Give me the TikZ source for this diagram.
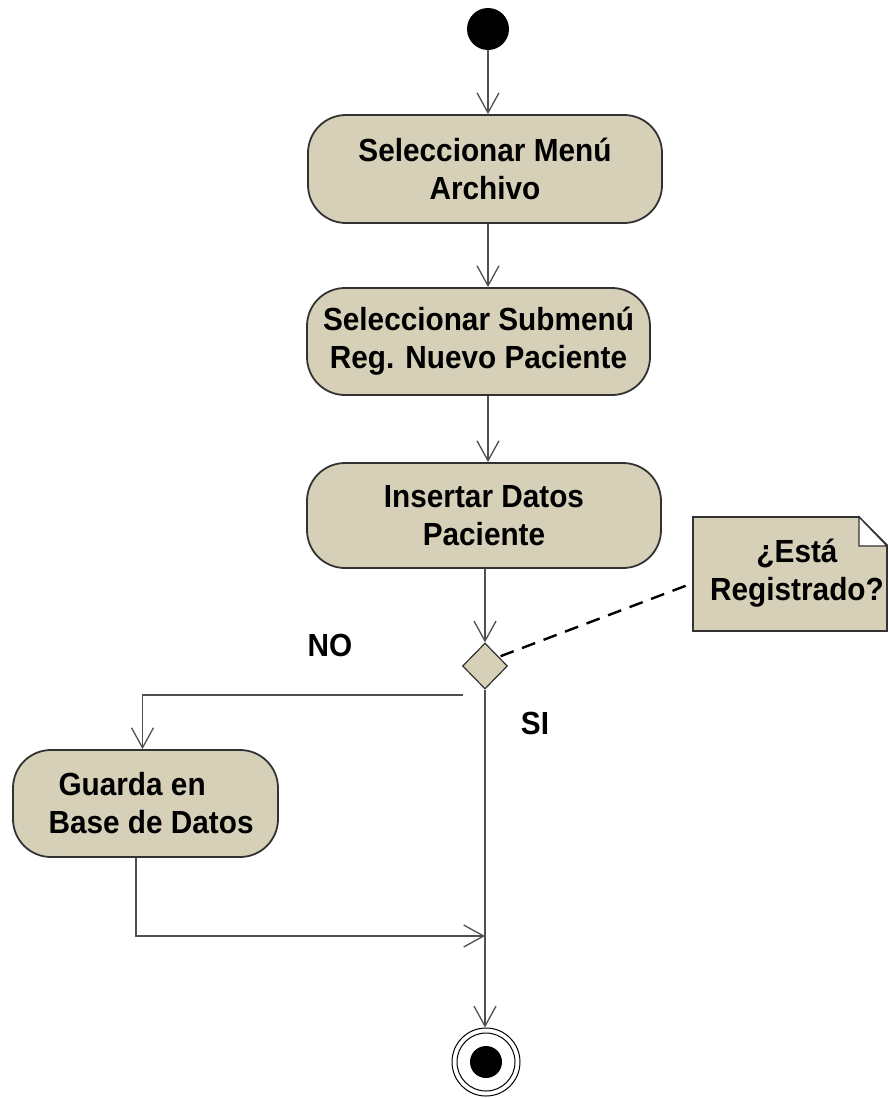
\documentclass[tikz,border=0pt]{standalone}
\usepackage{fontspec}
\setmainfont[FakeStretch=0.93]{Liberation Sans}
\usetikzlibrary{arrows.meta,shapes.geometric}
\definecolor{actfill}{RGB}{214,208,184}
\definecolor{actline}{RGB}{50,50,50}
\definecolor{flowline}{RGB}{80,80,80}
\begin{document}
\begin{tikzpicture}[x=1pt,y=-1pt,
  txt/.style={font=\fontsize{32}{38}\selectfont\bfseries, text=black, align=center},
  action/.style={txt, draw=actline, line width=1.8pt, fill=actfill,
    rounded corners=38pt, inner sep=0pt},
  flow/.style={draw=flowline, line width=1.3pt,
    -{Straight Barb[length=20pt,width=22pt,line width=1.3pt]}},
  notelink/.style={draw=black, line width=2.4pt, dash pattern=on 14pt off 9pt},
]
\useasboundingbox (0,0) rectangle (888,1098);

% start and activities
\node[circle, fill=black, minimum size=42pt, inner sep=0pt] (start) at (488,29) {};
\node[action, minimum width=354pt, minimum height=108pt] (a1) at (485,169)
  {Seleccionar Menú\\Archivo};
\node[action, minimum width=343pt, minimum height=107pt] (a2) at (478.5,341.5)
  {Seleccionar Submenú\\Reg. Nuevo Paciente};
\node[action, minimum width=354pt, minimum height=105pt] (a3) at (484,515.5)
  {Insertar Datos\\Paciente};

% decision
\node[diamond, draw=actline, fill=actfill, line width=1.2pt,
  minimum width=45pt, minimum height=46pt, inner sep=0pt] (dec) at (485,666) {};

% note with folded corner
\filldraw[fill=actfill, draw=actline, line width=1.6pt]
  (693,517) -- (859,517) -- (887,545) -- (887,631) -- (693,631) -- cycle;
\filldraw[fill=white, draw=actline, line width=1.2pt]
  (859,517) -- (859,546) -- (887,546) -- cycle;
\node[txt] (note) at (797,573) {¿Está\\Registrado?};
\coordinate (noteEdge) at (693,583);

% branch labels
\node[txt] (no) at (330,645) {NO};
\node[txt] (si) at (535,723) {SI};

% storing activity
\node[action, minimum width=265pt, minimum height=107pt] (a4) at (145.5,803.5) {};
\node[txt, align=left, anchor=west] (a4t) at (45,803.5)
  {\hspace*{10pt}Guarda en\\Base de Datos};

% final node
\node[circle, draw=black, line width=1pt, minimum size=68pt, inner sep=0pt] (end) at (486,1062) {};
\draw[black, line width=1pt] (end.center) circle (29pt);
\fill[black] (end.center) circle (16pt);

% helper points
\coordinate (noStart) at (463,695);
\coordinate (merge) at (485,936);

% transitions
\draw[flow] (start.south) -- (start.south |- a1.north);
\draw[flow] (a1.south -| start.south) -- (a2.north -| start.south);
\draw[flow] (a2.south -| start.south) -- (a3.north -| start.south);
\draw[flow] (a3.south -| dec.north) -- (dec.north);
\draw[notelink] ([shift={(4pt,-2pt)}]dec.north east) -- (noteEdge);
\draw[flow] (noStart) -| ([xshift=-3pt]a4.north);
\draw[flow] (dec.south) -- (dec.south |- end.north);
\draw[flow] ([xshift=-9.5pt]a4.south) |- (merge);
\end{tikzpicture}
\end{document}
